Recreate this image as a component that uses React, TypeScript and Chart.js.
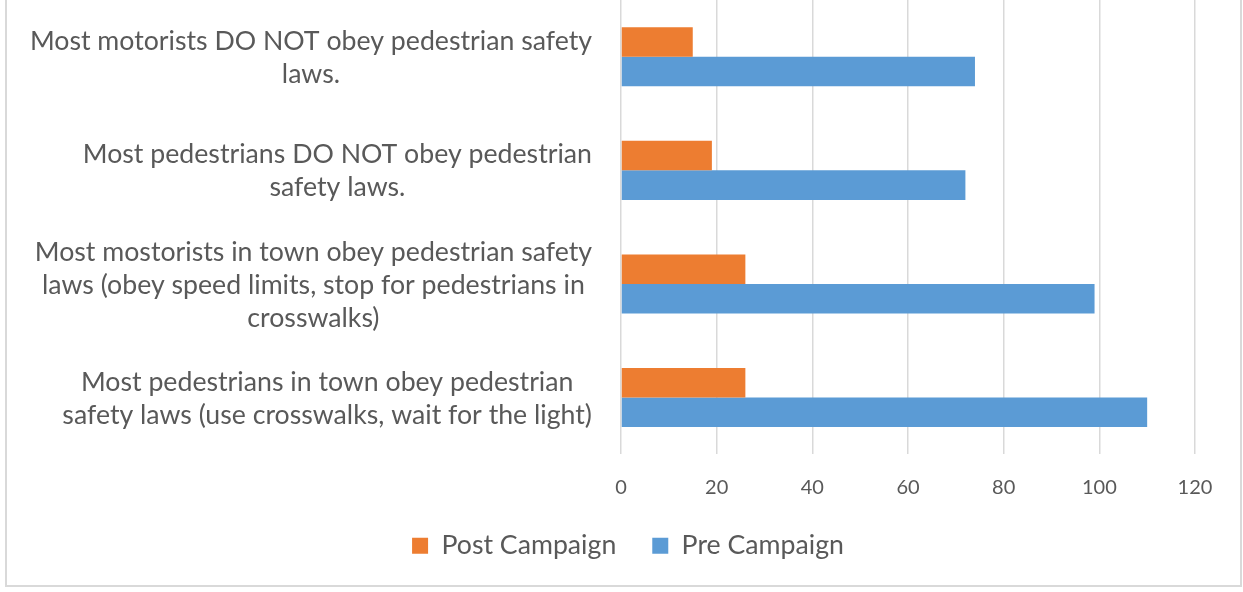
import React, { useEffect, useRef } from "react";
import { Chart, registerables } from "chart.js";

Chart.register(...registerables);

const categories: string[][] = [
  ["Most motorists DO NOT obey pedestrian safety", "laws."],
  ["Most pedestrians DO NOT obey pedestrian", "safety laws."],
  [
    "Most mostorists in town obey pedestrian safety",
    "laws (obey speed limits, stop for pedestrians in",
    "crosswalks)",
  ],
  ["Most pedestrians in town obey pedestrian", "safety laws (use crosswalks, wait for the light)"],
];
const postCampaign = [15, 19, 26, 26];
const preCampaign = [74, 72, 99, 110];
const seriesNames = ["Post Campaign", "Pre Campaign"];
const seriesColors = ["#ED7D31", "#5B9BD5"];
const xMin = 0;
const xMax = 120;
const xStep = 20;

const FONT = "Lato, 'Open Sans', sans-serif";
const TEXT = "#595959";
const GRID = "#d9d9d9";
const LABEL_SIZE = 26.7;
const LEGEND_SIZE = 26.7;
const LABEL_LINE = 33;

const yLabelPlugin = {
  id: "yLabelsCentered",
  afterDraw(chart: any) {
    const ctx = chart.ctx;
    const yScale = chart.scales.y;
    const right = chart.chartArea.left - 29;
    ctx.save();
    ctx.font = `${LABEL_SIZE}px ${FONT}`;
    ctx.fillStyle = TEXT;
    ctx.textAlign = "center";
    ctx.textBaseline = "middle";
    (chart.data.labels as any[]).forEach((lab, i) => {
      const lines: string[] = Array.isArray(lab) ? lab : [String(lab)];
      const w = Math.max(...lines.map((l) => ctx.measureText(l).width));
      const cx = right - w / 2;
      const cy = yScale.getPixelForValue(i) + 1;
      lines.forEach((l, j) => {
        ctx.fillText(l, cx, cy + (j - (lines.length - 1) / 2) * LABEL_LINE);
      });
    });
    ctx.restore();
  },
};

export default function App() {
  const ref = useRef<HTMLCanvasElement | null>(null);

  useEffect(() => {
    if (!ref.current) return;
    const chart = new Chart(ref.current, {
      type: "bar",
      data: {
        labels: categories,
        datasets: [
          {
            label: seriesNames[0],
            data: postCampaign,
            backgroundColor: seriesColors[0],
            barPercentage: 1,
            categoryPercentage: 0.52,
          },
          {
            label: seriesNames[1],
            data: preCampaign,
            backgroundColor: seriesColors[1],
            barPercentage: 1,
            categoryPercentage: 0.52,
          },
        ],
      },
      options: {
        indexAxis: "y",
        animation: false,
        responsive: false,
        maintainAspectRatio: false,
        layout: { padding: { left: 61, right: 48, top: 0, bottom: 23 } },
        scales: {
          x: {
            min: xMin,
            max: xMax,
            ticks: {
              stepSize: xStep,
              color: TEXT,
              font: { family: FONT, size: 20 },
              padding: 21,
            },
            grid: { color: GRID, lineWidth: 1.5, drawTicks: false },
            border: { display: false },
            afterFit: (scale: any) => {
              scale.height = 42;
            },
          },
          y: {
            ticks: { display: false },
            grid: { display: false },
            border: { display: false },
            afterFit: (scale: any) => {
              scale.width = 560;
            },
          },
        },
        plugins: {
          legend: {
            position: "bottom",
            labels: {
              color: TEXT,
              font: { family: FONT, size: LEGEND_SIZE },
              boxWidth: 16,
              boxHeight: 16,
              padding: 36,
            },
          },
          tooltip: { enabled: false },
        },
      },
      plugins: [yLabelPlugin],
    });
    return () => chart.destroy();
  }, []);

  return (
    <div style={{ position: "absolute", left: 0, top: 0, width: 1243, height: 592, overflow: "hidden", background: "#fff" }}>
      <div
        style={{
          position: "absolute",
          left: 5,
          top: -10,
          width: 1237,
          height: 597,
          border: `2px solid ${GRID}`,
          boxSizing: "border-box",
        }}
      />
      <canvas ref={ref} width={1243} height={592} style={{ position: "absolute", left: 0, top: 0 }} />
    </div>
  );
}
